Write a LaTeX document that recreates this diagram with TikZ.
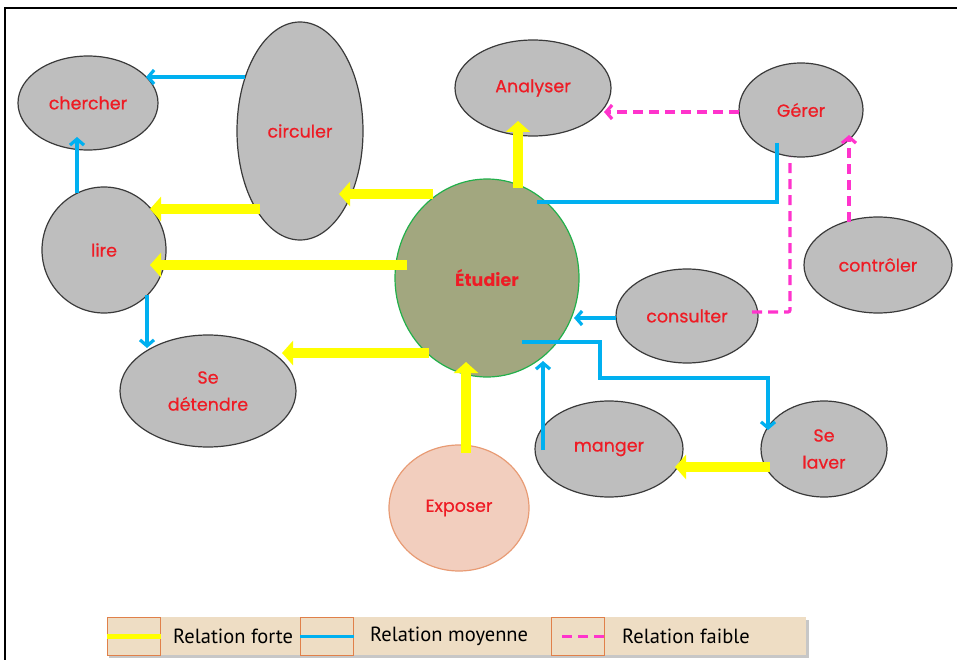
\documentclass[tikz,border=0pt]{standalone}
\usepackage{fontspec}
\setmainfont{Poppins}
\newfontfamily\nodefont{Poppins}[FakeBold=0.6]
\newfontfamily\legfont{PT Sans}
\usetikzlibrary{shapes.geometric,arrows.meta,calc,shadows}
\definecolor{nodegray}{HTML}{BEBEBE}
\definecolor{nodeline}{HTML}{3A3A3A}
\definecolor{txtred}{HTML}{EE1C25}
\definecolor{fortecol}{HTML}{FFFF00}
\definecolor{moycol}{HTML}{00B0F0}
\definecolor{faiblecol}{HTML}{FF33CC}
\definecolor{etudfill}{HTML}{A2A77F}
\definecolor{etudline}{HTML}{22B04B}
\definecolor{expfill}{HTML}{F2CEBE}
\definecolor{expline}{HTML}{E89B74}
\definecolor{legfill}{HTML}{EEDDC4}
\definecolor{legline}{HTML}{E0804A}
\tikzset{
  verb/.style={ellipse, draw=nodeline, line width=1.2pt, fill=nodegray, inner sep=0pt,
    text=txtred, font=\nodefont\fontsize{17.5}{27}\selectfont, align=center},
  forte/.style={draw=fortecol, line width=10.5pt,
    -{Triangle[length=11pt,width=24pt]}},
  moyenne/.style={draw=moycol, line width=3.2pt,
    -{Straight Barb[length=6pt,width=14pt]}},
  moyline/.style={draw=moycol, line width=3.2pt},
  faible/.style={draw=faiblecol, line width=3.2pt, dash pattern=on 10pt off 6pt,
    -{Straight Barb[length=6pt,width=14pt]}},
  faibleline/.style={draw=faiblecol, line width=3.2pt, dash pattern=on 10pt off 6pt},
  legbox/.style={draw=legline, line width=1.3pt, minimum width=53pt, minimum height=38pt, inner sep=0pt},
  legtext/.style={anchor=west, font=\legfont\fontsize{20.5}{22}\selectfont, inner sep=0pt, text=black}
}
\begin{document}
\begin{tikzpicture}[x=1pt,y=-1pt]
\useasboundingbox (0,0) rectangle (957,660);
\draw[line width=1.8pt] (5,665) -- (5,8) -- (965,8);
% nodes
\node[verb, minimum width=140pt, minimum height=94pt] (chercher) at (88,103) {chercher};
\node[verb, minimum width=126pt, minimum height=218pt] (circuler) at (300,131) {circuler};
\node[verb, minimum width=124pt, minimum height=126pt] (lire) at (104,250) {lire};
\node[verb, minimum width=176pt, minimum height=112pt] (detendre) at (208,391) {Se\\détendre};
\node[ellipse, draw=etudline, line width=1.2pt, fill=etudfill, inner sep=0pt, minimum width=184pt, minimum height=198pt,
  text=txtred, font=\fontsize{17.5}{21}\selectfont\bfseries] (etudier) at (487,278) {Étudier};
\node[verb, minimum width=156pt, minimum height=96pt] (analyser) at (533,88) {Analyser};
\node[verb, minimum width=124pt, minimum height=94pt] (gerer) at (801,110) {Gérer};
\node[verb, minimum width=148pt, minimum height=96pt] (controler) at (878,265) {contrôler};
\node[verb, minimum width=142pt, minimum height=94pt] (consulter) at (687,316) {consulter};
\node[verb, minimum width=148pt, minimum height=96pt] (manger) at (609,449) {manger};
\node[verb, minimum width=126pt, minimum height=96pt] (laver) at (824,449) {Se\\laver};
\node[verb, draw=expline, fill=expfill, minimum width=140pt, minimum height=126pt] (exposer) at (459,508) {Exposer};
% strong relations
\draw[forte] ($(etudier)+(31,-90)$) -- ($(analyser)+(-15,33)$);
\draw[forte] ($(etudier)+(-54,-84)$) -- ($(circuler)+(39,63)$);
\draw[forte] ($(circuler)+(-40,78)$) -- ($(lire)+(46,-41)$);
\draw[forte] ($(etudier)+(-80,-13)$) -- ($(lire)+(46,15)$);
\draw[forte] ($(etudier)+(-58,75)$) -- ($(detendre)+(74,-38)$);
\draw[forte] ($(exposer)+(7,-55)$) -- ($(etudier)+(-21,84)$);
\draw[forte] ($(laver)+(-54,18)$) -- ($(manger)+(66,18)$);
% medium relations
\draw[moyenne] ($(circuler)+(-55,-54)$) -- ($(chercher)+(58,-26)$);
\draw[moyenne] ($(lire)+(-27,-57)$) -- ($(chercher)+(-11,34)$);
\draw[moyenne] ($(lire)+(43,45)$) -- ($(detendre)+(-61,-43)$);
\draw[moyline] ($(gerer)+(-24,33)$) |- ($(etudier)+(50,-76)$);
\draw[moyenne] ($(consulter)+(-71,2)$) -- ($(etudier)+(87,40)$);
\draw[moyenne] ($(etudier)+(35,64)$) -- ++(78,0) |- ($(laver)+(-56,-71)$) -- ($(laver)+(-56,-19)$);
\draw[moyenne] ($(manger)+(-66,1)$) -- ($(etudier)+(56,83)$);
% weak relations
\draw[faible] ($(gerer)+(-62,2)$) -- ($(analyser)+(71,24)$);
\draw[faible] ($(controler)+(-29,-43)$) -- ($(gerer)+(48,25)$);
\draw[faibleline, rounded corners=2pt] ($(consulter)+(65,-4)$) -| ($(gerer)+(-11,47)$);
% legend
\fill[black!22] (109,620) rectangle (809,658);
\node[draw=none, fill=legfill, minimum width=699pt, minimum height=38pt, inner sep=0pt, anchor=north west] (legend) at (107,617) {};
\node[legbox, anchor=north west] (lb1) at (107,617) {};
\node[legbox, anchor=north west] (lb2) at (300,617) {};
\node[legbox, anchor=north west] (lb3) at (551,617) {};
\draw[draw=fortecol, line width=5pt] (lb1.west) -- (lb1.east);
\draw[moyline] (lb2.west) -- (lb2.east);
\draw[faibleline] ($(lb3.west)+(11,0)$) -- (lb3.east);
\node[legtext] (lt1) at (173,636) {Relation forte};
\node[legtext] (lt2) at (370,636) {Relation moyenne};
\node[legtext] (lt3) at (622,636) {Relation faible};
\end{tikzpicture}
\end{document}
